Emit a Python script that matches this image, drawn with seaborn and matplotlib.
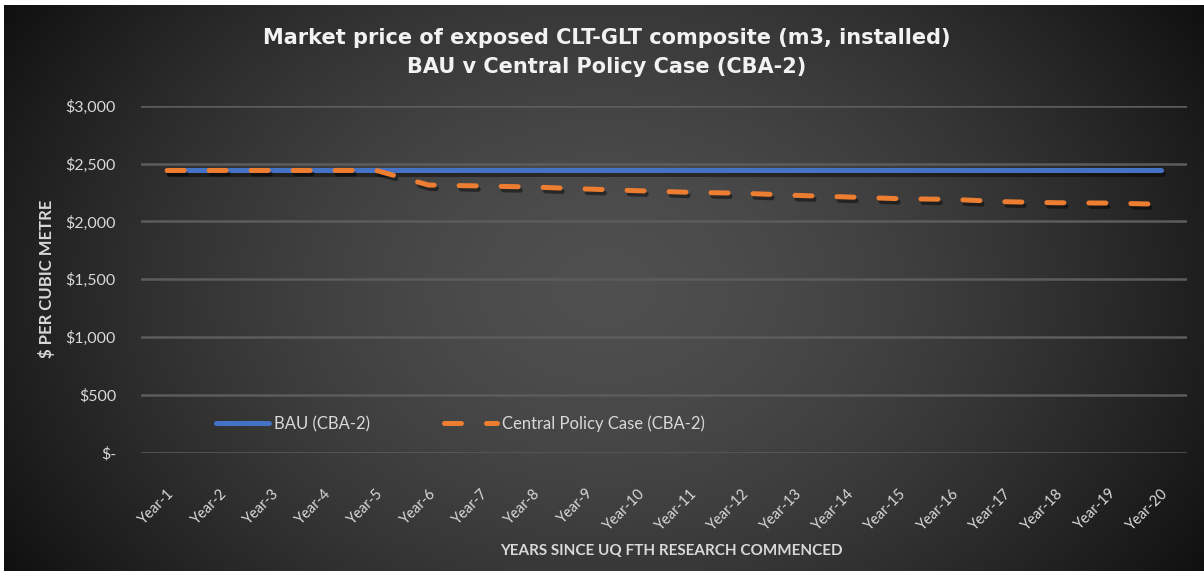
import numpy as np
import pandas as pd
import matplotlib
matplotlib.use("Agg")
import matplotlib.pyplot as plt
import matplotlib.patheffects as pe
from matplotlib.lines import Line2D
import seaborn as sns

years = [f"Year-{i}" for i in range(1, 21)]
bau = [2440] * 20
central = [2440, 2440, 2440, 2440, 2440, 2314, 2306, 2297, 2280, 2265,
           2251, 2243, 2225, 2211, 2196, 2190, 2170, 2161, 2158, 2148]
yticks = [0, 500, 1000, 1500, 2000, 2500, 3000]
ytick_labels = ["$-", "$500", "$1,000", "$1,500", "$2,000", "$2,500", "$3,000"]
series_names = ["BAU (CBA-2)", "Central Policy Case (CBA-2)"]

df = pd.DataFrame({
    "year": years * 2,
    "value": bau + central,
    "series": [series_names[0]] * 20 + [series_names[1]] * 20,
})

sns.set_theme(style="dark")
plt.rcParams["font.family"] = ["Lato", "DejaVu Sans"]

fig = plt.figure(figsize=(12.04, 5.71), dpi=100)
fig.patch.set_facecolor("white")

# background gradient panel
bg = fig.add_axes([4 / 1204, 0, 1 - 4 / 1204, 1 - 5 / 571])
bg.set_axis_off()
nx, ny = 400, 200
X, Y = np.meshgrid(np.linspace(-1, 1, nx), np.linspace(-1, 1, ny))
R = np.sqrt((X / 1.0) ** 2 + (Y / 1.6) ** 2)
vals = 0.31 - 0.19 * np.clip(R, 0, 1.3) ** 1.6
bg.imshow(np.dstack([vals, vals, vals]).clip(0, 1), aspect="auto",
          extent=[0, 1, 0, 1], interpolation="bilinear")
bg.set_zorder(0)

L, R_, B, T = 141, 1187, 452.7, 105.7
ax = fig.add_axes([L / 1204, 1 - B / 571, (R_ - L) / 1204, (B - T) / 571])
ax.set_zorder(1)
ax.set_facecolor("none")

colors = {series_names[0]: "#4472C4", series_names[1]: "#ED7D31"}
dash_pat = (3.4, 5.0)
lw = 3.6

sns.lineplot(data=df, x="year", y="value", hue="series", style="series",
             palette=colors,
             dashes={series_names[0]: "", series_names[1]: dash_pat},
             linewidth=lw, sort=False, ax=ax, legend=False)

for ln in ax.get_lines():
    ln.set_solid_capstyle("round")
    ln.set_dash_capstyle("round")
    ln.set_path_effects([pe.SimpleLineShadow(offset=(1.5, -2.5), shadow_color="black", alpha=0.45),
                         pe.Normal()])

ax.set_xlim(-0.5, 19.5)
ax.set_ylim(0, 3000)
ax.set_yticks(yticks)
ax.set_yticklabels(ytick_labels)
ax.yaxis.grid(True, color="#5c5c5c", linewidth=1.8)
ax.xaxis.grid(False)
for s in ax.spines.values():
    s.set_visible(False)
ax.tick_params(axis="y", colors="#d9d9d9", labelsize=11.5, length=0, pad=18)
ax.tick_params(axis="x", colors="#d9d9d9", labelsize=10.5, length=0, pad=24)
for lab in ax.get_xticklabels():
    lab.set_rotation(45)
    lab.set_ha("right")
    lab.set_rotation_mode("anchor")

ax.set_xlabel("YEARS SINCE UQ FTH RESEARCH COMMENCED", color="#d9d9d9",
              fontsize=11, fontweight="bold")
ax.set_ylabel("$ PER CUBIC METRE", color="#d9d9d9", fontsize=12,
              fontweight="bold")
ax.xaxis.set_label_coords((671 - L) / (R_ - L), -(551 - B) / (B - T))
ax.yaxis.set_label_coords(-(L - 47) / (R_ - L), 0.5)
ax.xaxis.label.set_va("center")
ax.yaxis.label.set_va("center")

title_font = ["DejaVu Sans"]
fig.text(607 / 1204, 1 - 38 / 571, "Market price of exposed CLT-GLT composite (m3, installed)",
         ha="center", va="center", color="#f2f2f2", fontsize=15, fontweight="bold",
         family=title_font)
fig.text(607 / 1204, 1 - 67 / 571, "BAU v Central Policy Case (CBA-2)",
         ha="center", va="center", color="#f2f2f2", fontsize=15, fontweight="bold",
         family=title_font)

handles = [
    Line2D([], [], color=colors[series_names[0]], linewidth=lw, solid_capstyle="round"),
    Line2D([], [], color=colors[series_names[1]], linewidth=lw, dashes=dash_pat,
           dash_capstyle="round"),
]
leg = ax.legend(handles, series_names, ncol=2,
                frameon=False, loc="center left",
                bbox_to_anchor=((216 - L) / (R_ - L), (B - 424) / (B - T)),
                fontsize=12, labelcolor="#d9d9d9", handlelength=3.2,
                handletextpad=0.3, columnspacing=4.4, borderaxespad=0, borderpad=0)

fig.savefig("out.png", dpi=100)
